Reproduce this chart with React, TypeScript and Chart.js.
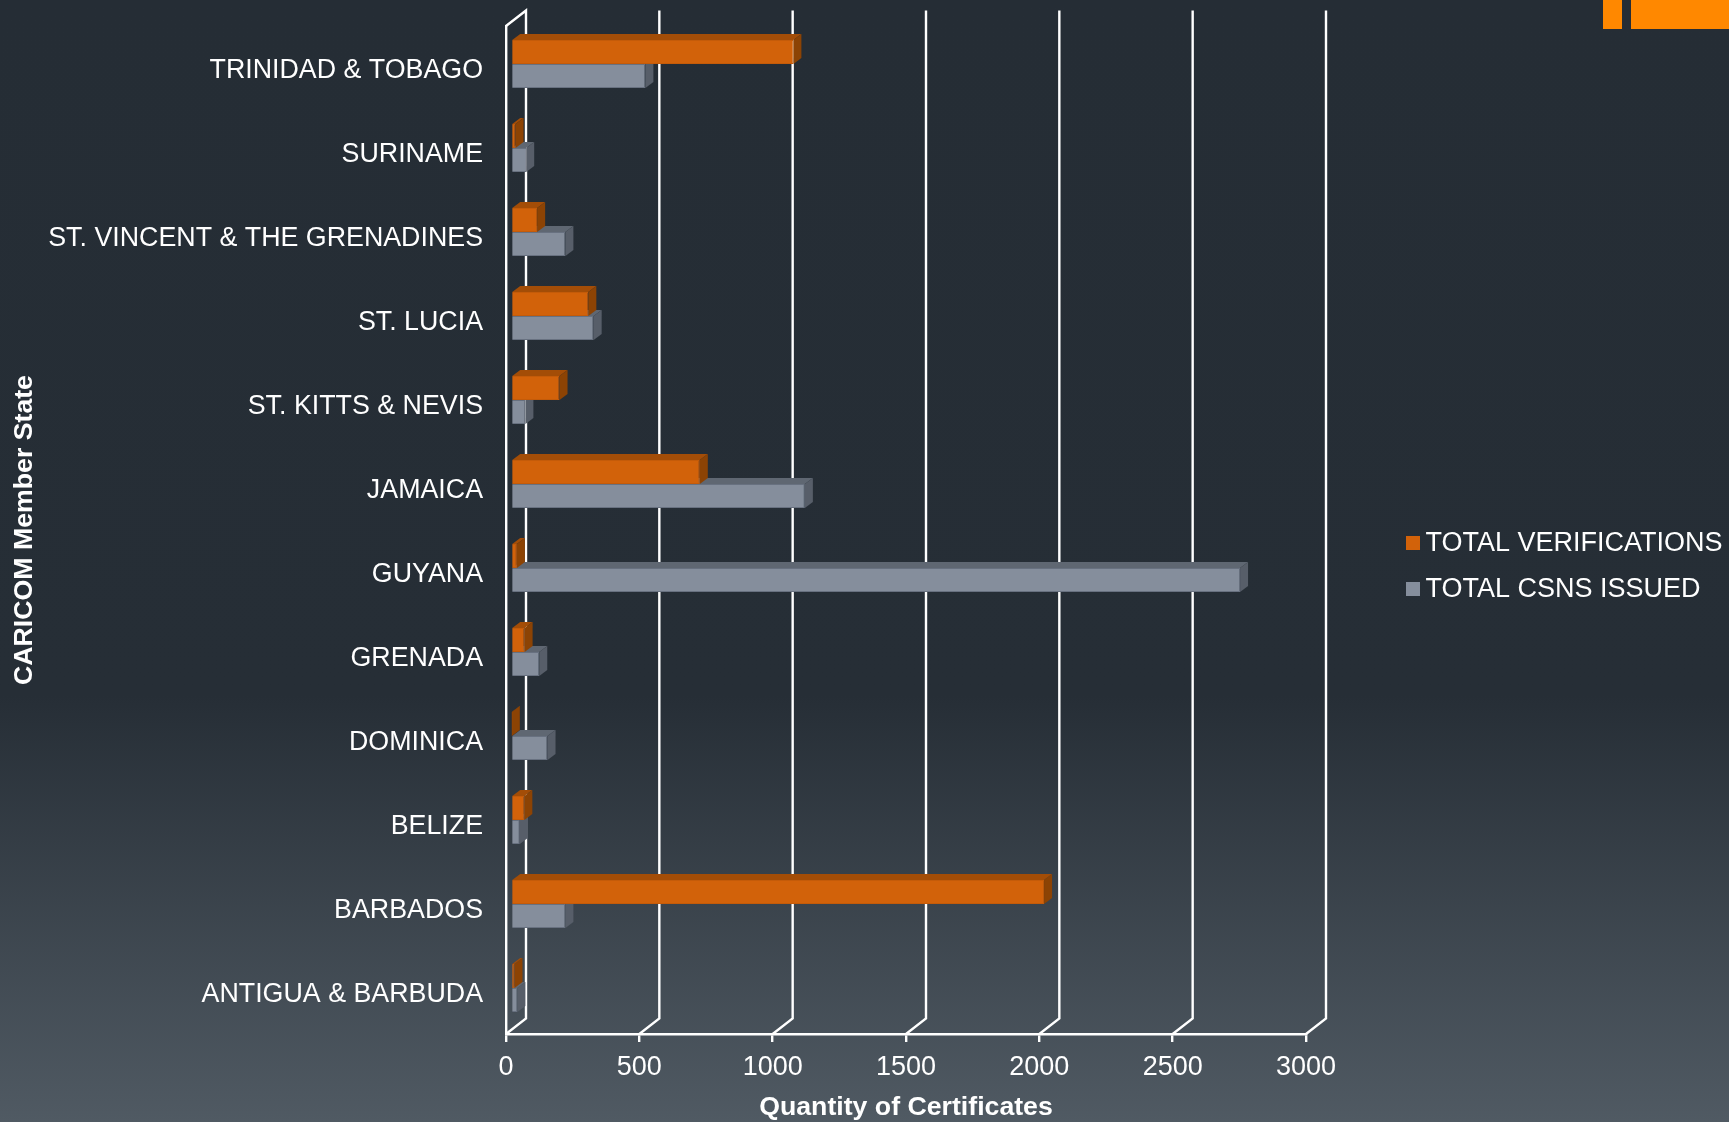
import React, { useEffect, useRef } from "react";
import { Chart, registerables } from "chart.js";

Chart.register(...registerables);

const memberStates = [
  "TRINIDAD & TOBAGO",
  "SURINAME",
  "ST. VINCENT & THE GRENADINES",
  "ST. LUCIA",
  "ST. KITTS & NEVIS",
  "JAMAICA",
  "GUYANA",
  "GRENADA",
  "DOMINICA",
  "BELIZE",
  "BARBADOS",
  "ANTIGUA & BARBUDA",
];
const totalVerifications = [1059, 17, 98, 290, 182, 708, 22, 51, 3, 50, 1999, 13];
const totalCsnsIssued = [504, 57, 204, 310, 54, 1102, 2734, 106, 137, 33, 204, 24];

const FONT = "'Liberation Sans', Arial, sans-serif";
const WHITE = "#ffffff";

// Depth of the bars and of the walls behind them.
const BAR_SHIFT = { x: 5, y: -4 };
const BAR_DEPTH = { x: 8, y: -6 };
const WALL_DEPTH = { x: 20, y: -15.5 };

const FACES = [
  { front: "#d2620a", edge: "#c45b09", top: "#a34d07", side: "#8c4304" },
  { front: "#858e9c", edge: "#687180", top: "#5f6772", side: "#575e69" },
];

// Back wall: each value gridline runs along the wall and folds forward to the axis.
const wallPlugin = {
  id: "wall",
  beforeDatasetsDraw(chart: any) {
    const { ctx, chartArea, scales } = chart;
    ctx.save();
    ctx.strokeStyle = WHITE;
    ctx.lineWidth = 2.4;
    ctx.lineJoin = "miter";
    scales.x.ticks.forEach((_t: any, i: number) => {
      const px = scales.x.getPixelForTick(i);
      ctx.beginPath();
      if (i === 0) {
        ctx.moveTo(px, chartArea.top);
        ctx.lineTo(px + WALL_DEPTH.x, chartArea.top + WALL_DEPTH.y);
      } else {
        ctx.moveTo(px + WALL_DEPTH.x, chartArea.top + WALL_DEPTH.y);
      }
      ctx.lineTo(px + WALL_DEPTH.x, chartArea.bottom + WALL_DEPTH.y);
      ctx.lineTo(px, chartArea.bottom);
      ctx.stroke();
    });
    ctx.restore();
  },
};

// Extrudes each bar: top and side faces first, the library's own bar on top.
const extrudePlugin = {
  id: "extrude",
  beforeDatasetDraw(chart: any, args: any) {
    const { ctx } = chart;
    const faces = FACES[args.index];
    ctx.save();
    ctx.translate(BAR_SHIFT.x, BAR_SHIFT.y);
    args.meta.data.forEach((bar: any) => {
      const { x, y, base, height } = bar.getProps(["x", "y", "base", "height"]);
      const top = y - height / 2;
      const bottom = y + height / 2;
      ctx.fillStyle = faces.top;
      ctx.beginPath();
      ctx.moveTo(base, top);
      ctx.lineTo(x, top);
      ctx.lineTo(x + BAR_DEPTH.x, top + BAR_DEPTH.y);
      ctx.lineTo(base + BAR_DEPTH.x, top + BAR_DEPTH.y);
      ctx.closePath();
      ctx.fill();
      ctx.fillStyle = faces.side;
      ctx.beginPath();
      ctx.moveTo(x, top);
      ctx.lineTo(x + BAR_DEPTH.x, top + BAR_DEPTH.y);
      ctx.lineTo(x + BAR_DEPTH.x, bottom + BAR_DEPTH.y);
      ctx.lineTo(x, bottom);
      ctx.closePath();
      ctx.fill();
    });
  },
  afterDatasetDraw(chart: any) {
    chart.ctx.restore();
  },
};

// Square swatches with their labels, to the right of the plot.
const keyPlugin = {
  id: "key",
  afterDraw(chart: any) {
    const { ctx } = chart;
    ctx.save();
    ctx.font = `27px ${FONT}`;
    ctx.textBaseline = "middle";
    ctx.textAlign = "left";
    chart.data.datasets.forEach((ds: any, i: number) => {
      const cy = 543 + i * 46;
      ctx.fillStyle = ds.backgroundColor;
      ctx.fillRect(1406, cy - 7, 14, 14);
      ctx.fillStyle = WHITE;
      ctx.fillText(ds.label, 1425.5, cy + 1);
    });
    ctx.restore();
  },
};

export default function App() {
  const canvasRef = useRef<HTMLCanvasElement>(null);

  useEffect(() => {
    const chart = new Chart(canvasRef.current!, {
      type: "bar",
      data: {
        labels: memberStates,
        datasets: [
          {
            label: "TOTAL VERIFICATIONS",
            data: totalVerifications,
            backgroundColor: FACES[0].front,
            borderColor: FACES[0].edge,
            borderWidth: 1,
            clip: false,
          },
          {
            label: "TOTAL CSNS ISSUED",
            data: totalCsnsIssued,
            backgroundColor: FACES[1].front,
            borderColor: FACES[1].edge,
            borderWidth: 1,
            clip: false,
          },
        ],
      } as any,
      options: {
        indexAxis: "y",
        responsive: false,
        animation: false,
        devicePixelRatio: 1,
        layout: { padding: { top: 26, right: 423, left: 0, bottom: 0 } },
        datasets: { bar: { categoryPercentage: 48 / 84, barPercentage: 1 } },
        plugins: { legend: { display: false }, tooltip: { enabled: false } },
        scales: {
          x: {
            min: 0,
            max: 3000,
            afterFit(scale: any) {
              scale.height = 88;
            },
            ticks: {
              stepSize: 500,
              maxRotation: 0,
              autoSkip: false,
              color: WHITE,
              padding: 9,
              font: { family: FONT, size: 27 },
              callback: (value: number) => String(value),
            },
            grid: {
              drawOnChartArea: false,
              drawTicks: true,
              tickLength: 8,
              color: WHITE,
              lineWidth: 2.4,
            },
            border: { display: true, color: WHITE, width: 2.4 },
            title: {
              display: true,
              text: "Quantity of Certificates",
              color: WHITE,
              padding: { top: 0, bottom: 0 },
              font: { family: FONT, size: 26.7, weight: "bold", lineHeight: 1.05 },
            },
          },
          y: {
            afterFit(scale: any) {
              scale.width = 506;
              scale.paddingTop = 0;
              scale.paddingBottom = 0;
            },
            ticks: {
              color: WHITE,
              padding: 23,
              autoSkip: false,
              labelOffset: 3,
              font: { family: FONT, size: 26.8 },
            },
            grid: { display: false, drawTicks: false },
            border: { display: true, color: WHITE, width: 2.4 },
            title: {
              display: true,
              text: "CARICOM Member State",
              color: WHITE,
              padding: { top: 9, bottom: 0 },
              font: { family: FONT, size: 26.7, weight: "bold" },
            },
          },
        },
      } as any,
      plugins: [wallPlugin, extrudePlugin, keyPlugin] as any,
    });
    return () => chart.destroy();
  }, []);

  return (
    <div
      style={{
        position: "fixed",
        left: 0,
        top: 0,
        width: 1729,
        height: 1122,
        overflow: "hidden",
        background:
          "linear-gradient(180deg, #252d35 0%, #262e36 62%, #505a63 100%)",
      }}
    >
      <div style={{ position: "absolute", left: 1603, top: 0, width: 19, height: 29, background: "#ff8800" }} />
      <div style={{ position: "absolute", left: 1631, top: 0, width: 98, height: 29, background: "#ff8800" }} />
      <canvas
        ref={canvasRef}
        width={1729}
        height={1122}
        style={{ position: "absolute", left: 0, top: 0, width: 1729, height: 1122 }}
      />
    </div>
  );
}
